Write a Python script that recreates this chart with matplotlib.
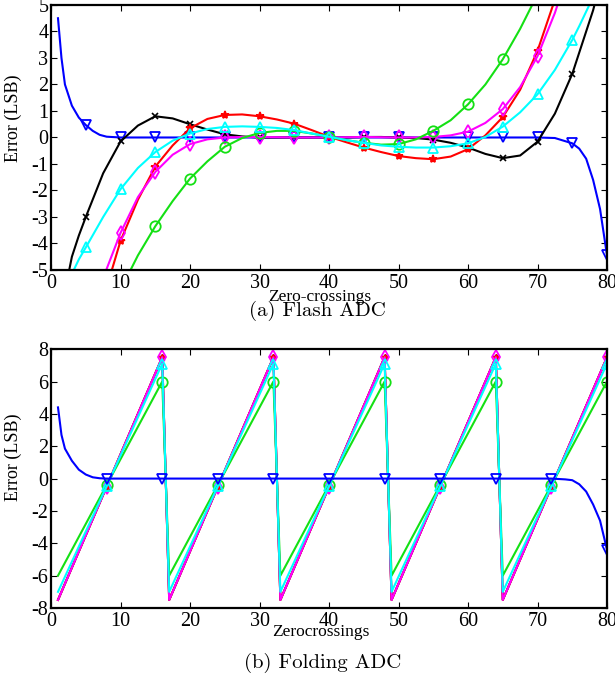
import matplotlib
matplotlib.use('Agg')
import matplotlib.pyplot as plt
import numpy as np

plt.rcParams['axes.unicode_minus'] = False

# ---- (a) Flash ADC data ----
xa = [1, 2, 3, 4, 5, 7.5, 10, 12.5, 15, 17.5, 20, 22.5, 25, 27.5, 30, 32.5, 35, 37.5,
      40, 42.5, 45, 47.5, 50, 52.5, 55, 57.5, 60, 62.5, 65, 67.5, 70, 72.5, 75, 76, 77, 78, 79, 80]
flash_black = [-7.6, -5.8, -4.5, -3.7, -3.0, -1.35, -0.15, 0.45, 0.8, 0.72, 0.5, 0.3, 0.12, 0.04,
               0.0, 0.0, 0.0, 0.0, 0.0, 0.0, 0.02, 0.02, 0.0, -0.02, -0.08, -0.2, -0.38, -0.62,
               -0.78, -0.68, -0.16, 0.9, 2.4, 3.2, 4.0, 4.8, 5.8, 7.0]
flash_red = [-18, -16, -14, -12.5, -11, -6.1, -3.9, -2.35, -1.1, -0.3, 0.35, 0.7, 0.85, 0.87,
             0.8, 0.68, 0.52, 0.28, 0.03, -0.18, -0.38, -0.55, -0.7, -0.78, -0.82, -0.72,
             -0.44, 0.08, 0.77, 1.8, 3.27, 5.2, 7.5, 8.5, 9.5, 10.5, 12, 13]
flash_magenta = [-15, -13.5, -12, -10.5, -9, -5.3, -3.6, -2.25, -1.3, -0.65, -0.25, -0.07, 0.0,
                 0.02, 0.02, 0.01, 0.0, 0.0, 0.0, 0.01, 0.02, 0.01, 0.0, 0.0, 0.02, 0.08, 0.22,
                 0.55, 1.07, 1.9, 3.07, 4.7, 6.7, 7.6, 8.5, 9.5, 10.5, 11.5]
flash_green = [-17, -16, -15, -14, -8.5, -7.0, -5.75, -4.45, -3.35, -2.4, -1.55, -0.9, -0.35,
               -0.02, 0.17, 0.25, 0.25, 0.15, 0.03, -0.1, -0.2, -0.27, -0.25, -0.07, 0.25, 0.65,
               1.25, 2.0, 2.95, 4.1, 5.4, 7, 9, 10, 11, 12, 13, 14]
flash_cyan = [-6.5, -5.8, -5.15, -4.6, -4.15, -3.0, -1.95, -1.15, -0.55, -0.12, 0.15, 0.32, 0.4,
              0.42, 0.4, 0.36, 0.28, 0.15, 0.03, -0.1, -0.2, -0.3, -0.35, -0.38, -0.38, -0.33,
              -0.22, 0.02, 0.41, 0.95, 1.63, 2.55, 3.68, 4.2, 4.75, 5.3, 5.9, 6.5]
xa_blue = [1, 1.5, 2, 3, 4, 5, 6, 7, 8, 10, 15, 20, 25, 30, 35, 40, 45, 50, 55, 60, 65, 70,
           72.5, 75, 76, 77, 78, 79, 80]
flash_blue = [4.5, 3.0, 2.0, 1.2, 0.75, 0.47, 0.25, 0.1, 0.03, 0.0, 0.0, 0.0, 0.0, 0.0, 0.0,
              0.0, 0.0, 0.0, 0.0, 0.0, 0.0, 0.0, -0.02, -0.22, -0.42, -0.8, -1.6, -2.7, -4.45]

# ---- (b) Folding ADC data ----
xb = [1, 8, 16, 17, 24, 32, 33, 40, 48, 49, 56, 64, 65, 72, 80]
fold_magenta = [-7.5, -0.5, 7.5, -7.5, -0.5, 7.5, -7.5, -0.5, 7.5, -7.5, -0.5, 7.5, -7.5, -0.5, 7.5]
fold_cyan = [-7.0, -0.47, 7.1, -7.0, -0.47, 7.1, -7.0, -0.47, 7.1, -7.0, -0.47, 7.1, -7.0, -0.47, 7.1]
fold_green = [-6.0, -0.4, 6.0, -6.0, -0.4, 6.0, -6.0, -0.4, 6.0, -6.0, -0.4, 6.0, -6.0, -0.4, 6.0]
xb_blue = [1, 1.5, 2, 3, 4, 5, 6, 7, 8, 16, 24, 32, 40, 48, 56, 64, 72, 74, 75, 76, 77, 78, 79, 80]
fold_blue = [4.4, 2.7, 1.85, 1.1, 0.55, 0.25, 0.08, 0.02, 0.0, 0.0, 0.0, 0.0, 0.0, 0.0, 0.0,
             0.0, 0.0, -0.05, -0.1, -0.35, -0.8, -1.6, -2.6, -4.4]

GREEN = '#14e014'
tickfont = 'Liberation Serif'


def marks(xs, step):
    return [i for i, x in enumerate(xs) if x % step == 0]


def style_axes(ax, ylim, yticks):
    ax.set_xlim(0, 80)
    ax.set_ylim(*ylim)
    ax.set_xticks(range(0, 81, 10))
    ax.set_xticklabels([str(t) for t in range(0, 81, 10)], family=tickfont, fontsize=14.5)
    ax.set_yticks(yticks)
    ax.set_yticklabels([str(t) for t in yticks], family=tickfont, fontsize=14.5)
    ax.tick_params(direction='in', length=4, width=0.8, top=True, right=True)
    ax.tick_params(axis='x', pad=3)
    ax.tick_params(axis='y', pad=2)
    for s in ax.spines.values():
        s.set_linewidth(1.6)
    ax.set_ylabel('Error (LSB)', family=tickfont, fontsize=13)


fig = plt.figure(figsize=(6.15, 6.83), dpi=100)

# (a)
ax1 = fig.add_axes([0.083, 0.6047, 0.904, 0.388])
lw = 1.5
mk = dict(fillstyle='none', markeredgewidth=1.3)
ax1.plot(xa_blue, flash_blue, color='#0000ff', lw=lw, marker='v', ms=7.5,
         markevery=marks(xa_blue, 5), **mk)
ax1.plot(xa, flash_black, color='k', lw=lw, marker='x', ms=4, markevery=marks(xa, 5), mew=1.2)
ax1.plot(xa, flash_red, color='#ff0000', lw=lw, marker='*', ms=6, markevery=marks(xa, 5), mew=1.2)
ax1.plot(xa, flash_magenta, color='#ff00ff', lw=lw, marker='d', ms=7.5, markevery=marks(xa, 5), **mk)
ax1.plot(xa, flash_green, color=GREEN, lw=lw, marker='o', ms=7.5, markevery=marks(xa, 5), **mk)
ax1.plot(xa, flash_cyan, color='#00ffff', lw=lw, marker='^', ms=7.5, markevery=marks(xa, 5), **mk)
style_axes(ax1, (-5, 5), list(range(-5, 6)))
ax1.yaxis.set_label_coords(-0.052, 0.574)
fig.text(320 / 615, 1 - 297 / 683, 'Zero-crossings', family=tickfont, fontsize=12.5,
         ha='center', va='center')
fig.text(317 / 615, 1 - 311 / 683, '(a) Flash ADC', family='cmr10', fontsize=15,
         ha='center', va='center')

# (b)
ax2 = fig.add_axes([0.083, 0.1098, 0.904, 0.379])
ax2.plot(xb, fold_magenta, color='k', lw=lw, marker='*', ms=5, markevery=marks(xb, 8))
ax2.plot(xb, fold_magenta, color='#ff0000', lw=lw, marker='*', ms=5, markevery=marks(xb, 8))
ax2.plot(xb, fold_magenta, color='#ff00ff', lw=lw, marker='d', ms=7.5, markevery=marks(xb, 8), **mk)
ax2.plot(xb, fold_green, color=GREEN, lw=lw, marker='o', ms=7.5, markevery=marks(xb, 8), **mk)
ax2.plot(xb, fold_cyan, color='#00ffff', lw=lw, marker='^', ms=7.5, markevery=marks(xb, 8), **mk)
ax2.plot(xb_blue, fold_blue, color='#0000ff', lw=lw, marker='v', ms=7.5,
         markevery=marks(xb_blue, 8), **mk)
style_axes(ax2, (-8, 8), list(range(-8, 9, 2)))
ax2.yaxis.set_label_coords(-0.052, 0.581)
fig.text(321 / 615, 1 - 632 / 683, 'Zerocrossings', family=tickfont, fontsize=12.5,
         ha='center', va='center')
fig.text(323 / 615, 1 - 663 / 683, '(b) Folding ADC', family='cmr10', fontsize=15,
         ha='center', va='center')

fig.savefig('out.png', dpi=100)
